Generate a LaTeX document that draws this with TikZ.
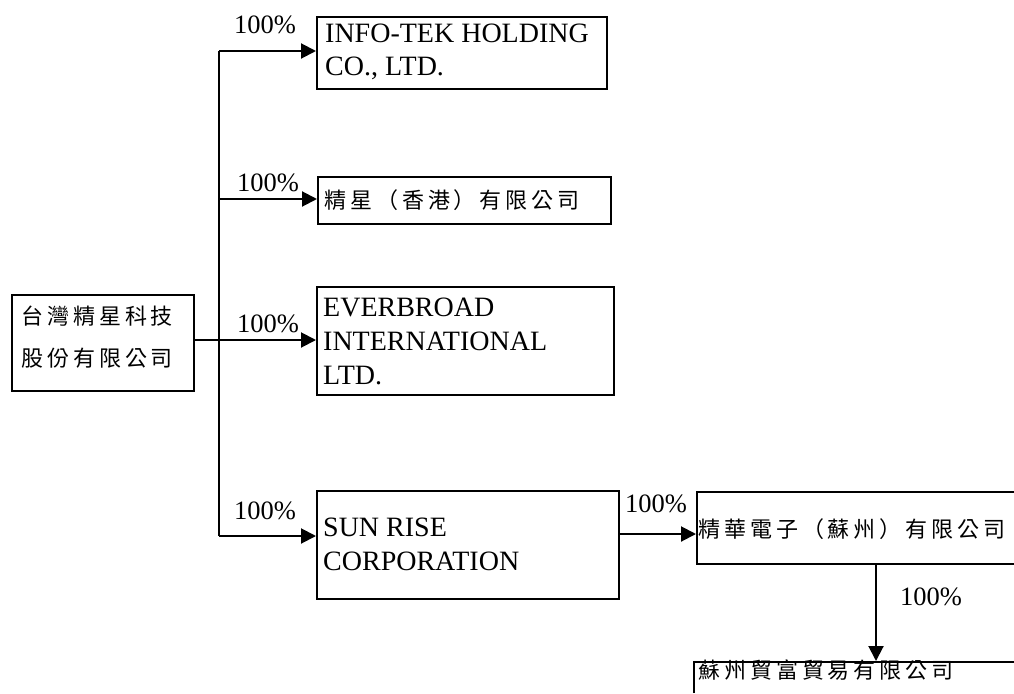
\documentclass[tikz,border=0pt]{standalone}
\usepackage{fontspec}
\setmainfont{Liberation Serif}
\newfontfamily\cjk[LetterSpace=18]{Noto Sans CJK TC}
\usetikzlibrary{arrows.meta}
\tikzset{
 px/.style={x=1pt,y=-1pt},
 boxn/.style={draw=black,line width=2pt,inner sep=0pt,anchor=north west},
 lab/.style={font=\fontsize{28}{32}\selectfont,inner sep=0pt,anchor=west,align=left},
 cj/.style={font=\cjk\fontsize{22}{26}\selectfont,inner sep=0pt,anchor=west},
 pct/.style={font=\fontsize{26.5}{30}\selectfont,inner sep=0pt},
 conn/.style={line width=2pt},
 arr/.style={line width=2pt,-{Triangle[length=15pt,width=15pt]}}
}
\begin{document}
\begin{tikzpicture}[px]
\useasboundingbox (0,0) rectangle (1014,693);
\path[fill=white] (0,0) rectangle (1014,693);
\node[boxn,minimum width=182pt,minimum height=96pt] (root) at (11,294) {};
\node[boxn,minimum width=290pt,minimum height=72pt] (a) at (316,16) {};
\node[boxn,minimum width=293pt,minimum height=47pt] (b) at (317,176) {};
\node[boxn,minimum width=297pt,minimum height=108pt] (c) at (316,286) {};
\node[boxn,minimum width=302pt,minimum height=108pt] (d) at (316,490) {};
\node[boxn,minimum width=320pt,minimum height=72pt] (e) at (696,491) {};
\draw[line width=2pt] (694,693) -- (694,662) -- (1014,662);
\coordinate (f) at (876,661);
\node[cj] at (21,316) {台灣精星科技};
\node[cj] at (21,358) {股份有限公司};
\node[lab] at (325,33) {INFO-TEK HOLDING};
\node[lab] at (325,68) {CO., LTD.};
\node[cj] at (324,200) {精星（香港）有限公司};
\node[lab] at (323,307) {EVERBROAD};
\node[lab] at (323,341) {INTERNATIONAL};
\node[lab] at (323,376) {LTD.};
\node[lab] at (323,527) {SUN RISE};
\node[lab] at (323,561) {CORPORATION};
\node[cj] at (698,529) {精華電子（蘇州）有限公司};
\node[cj] at (698,670) {蘇州貿富貿易有限公司};
\node[pct] at (265,25) {100\%};
\node[pct] at (268,183) {100\%};
\node[pct] at (268,324) {100\%};
\node[pct] at (265,511) {100\%};
\node[pct] at (656,504) {100\%};
\node[pct] at (931,597) {100\%};
\draw[conn] (219,51) -- (219,536);
\draw[arr] (219,51) -- (a.west |- 0,51);
\draw[arr] (219,199) -- (b.west |- 0,199);
\draw[arr] (root.east |- 0,340) -- (c.west |- 0,340);
\draw[arr] (219,536) -- (d.west |- 0,536);
\draw[arr] (d.east |- 0,534) -- (e.west |- 0,534);
\draw[arr] (876,563) -- (f);
\end{tikzpicture}
\end{document}
